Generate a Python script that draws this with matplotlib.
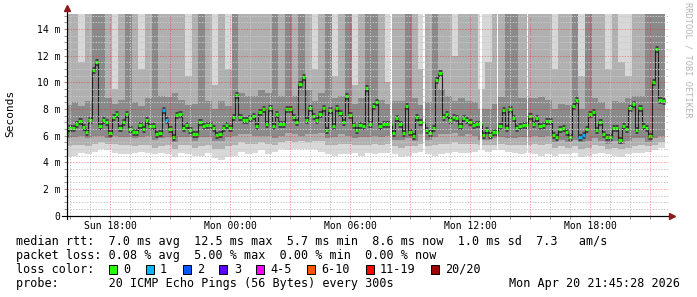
import numpy as np
import matplotlib.pyplot as plt
from matplotlib.patches import Rectangle

plt.rcParams['font.family'] = 'DejaVu Sans Mono'

# median rtt in ms, 10 minute steps from Sun 15:45 to Mon 21:45
median_ms = [
    6.2, 6.6, 6.55, 6.9, 7.1, 6.65, 6.3, 7.2, 10.9, 11.5,
    6.7, 7.2, 7.0, 6.2, 7.4, 7.6, 6.6, 7.0, 7.6, 6.5,
    6.3, 6.3, 6.8, 6.5, 7.2, 6.7, 6.7, 6.1, 6.2, 7.9,
    7.2, 6.5, 5.9, 7.55, 7.6, 6.55, 6.8, 6.4, 6.1, 6.1,
    7.05, 6.7, 6.8, 6.8, 6.55, 6.05, 6.1, 6.55, 6.8, 6.6,
    7.4, 9.05, 7.4, 7.2, 7.2, 7.3, 7.5, 6.7, 7.8, 8.0,
    6.85, 8.1, 6.7, 7.6, 6.9, 6.9, 8.0, 8.0, 7.4, 7.0,
    9.9, 10.4, 7.2, 8.05, 7.5, 7.2, 7.6, 8.1, 6.4, 7.9,
    6.7, 8.1, 7.7, 7.0, 9.0, 7.55, 6.8, 6.4, 6.8, 6.7,
    9.6, 6.9, 8.2, 8.55, 6.7, 6.9, 6.9, 6.9, 6.2, 7.3,
    6.9, 6.2, 8.2, 6.3, 6.0, 7.4, 7.05, 7.05, 6.4, 6.2,
    6.55, 10.2, 10.7, 7.4, 7.6, 7.2, 7.4, 7.35, 6.7, 7.3,
    7.2, 7.0, 6.8, 6.9, 6.9, 6.05, 6.4, 6.05, 6.3, 6.3,
    6.7, 7.9, 6.55, 8.0, 7.3, 6.55, 6.7, 6.8, 6.8, 7.5,
    6.9, 7.3, 6.7, 6.8, 7.1, 7.1, 6.05, 5.9, 6.5, 6.55,
    6.3, 5.9, 8.2, 8.7, 5.9, 6.05, 6.5, 7.6, 7.8, 6.4,
    7.05, 6.1, 5.9, 5.9, 6.55, 6.6, 5.7, 6.7, 6.5, 8.1,
    8.4, 6.4, 8.05, 6.7, 6.55, 6.0, 10.05, 12.5, 8.7, 8.6,
]
# median steps where 1 of 20 pings was lost
loss1_steps = [29, 30, 154, 155]

# smoke: ping spread in 20 minute steps (ms), 20 = above the chart top
ping_lo1 = [
    4.4, 4.5, 4.7, 4.6, 4.8, 5.0, 4.9, 4.7, 4.6, 4.6,
    4.7, 4.8, 4.7, 4.6, 4.7, 4.6, 4.4, 4.7, 4.6, 4.5,
    4.5, 4.7, 4.3, 4.2, 4.4, 4.5, 4.8, 4.6, 4.7, 4.9,
    4.6, 4.8, 5.0, 4.9, 5.0, 5.0, 5.0, 5.0, 4.8, 4.6,
    4.5, 4.6, 4.6, 4.7, 4.5, 4.7, 4.6, 4.7, 4.7, 4.6,
    4.4, 4.5, 4.7, 4.8, 4.6, 4.5, 4.6, 4.7, 4.8, 4.7,
    4.7, 4.8, 4.9, 4.8, 4.9, 4.9, 4.8, 4.7, 4.6, 4.7,
    4.6, 4.5, 4.6, 4.5, 4.6, 4.6, 4.7, 4.4, 4.5, 4.6,
    4.7, 4.6, 4.5, 4.4, 4.6, 4.7, 4.7, 4.8, 4.9, 5.1,
]
ping_lo2 = [
    5.2, 5.3, 5.3, 5.2, 5.4, 5.5, 5.4, 5.4, 5.3, 5.3,
    5.2, 5.3, 5.3, 5.1, 5.2, 5.3, 5.0, 5.3, 5.3, 5.1,
    5.2, 5.3, 5.0, 5.0, 5.2, 5.3, 5.5, 5.4, 5.4, 5.5,
    5.4, 5.3, 5.5, 5.6, 5.5, 5.6, 5.5, 5.6, 5.6, 5.3,
    5.3, 5.4, 5.4, 5.3, 5.3, 5.3, 5.4, 5.3, 5.4, 5.2,
    5.1, 5.2, 5.2, 5.4, 5.2, 5.3, 5.4, 5.4, 5.5, 5.4,
    5.4, 5.4, 5.3, 5.3, 5.3, 5.4, 5.3, 5.3, 5.3, 5.3,
    5.4, 5.3, 5.4, 5.1, 5.2, 5.1, 5.2, 5.0, 5.1, 5.3,
    5.2, 5.0, 5.1, 5.0, 5.1, 5.2, 5.3, 5.2, 5.3, 5.5,
]
ping_lo3 = [
    5.8, 5.9, 6.0, 5.8, 6.0, 6.0, 5.8, 6.0, 5.9, 5.9,
    5.8, 5.9, 6.0, 5.7, 5.8, 5.9, 5.5, 5.9, 5.9, 5.6,
    5.9, 5.9, 5.6, 5.6, 5.9, 6.0, 6.1, 6.1, 6.0, 6.0,
    6.0, 5.8, 6.0, 6.2, 6.1, 6.0, 6.1, 6.1, 6.2, 5.8,
    5.9, 6.1, 6.0, 5.8, 5.9, 5.9, 6.0, 5.9, 6.0, 5.7,
    5.7, 5.8, 5.6, 6.1, 5.7, 5.9, 6.1, 6.1, 6.2, 6.0,
    6.1, 6.0, 5.7, 5.7, 5.8, 5.9, 5.8, 5.8, 5.9, 5.9,
    6.0, 5.9, 6.0, 5.5, 5.7, 5.5, 5.7, 5.5, 5.6, 5.8,
    5.6, 5.4, 5.6, 5.4, 5.6, 5.8, 5.8, 5.5, 5.8, 6.0,
]
ping_hi3 = [
    8.3, 8.5, 8.2, 8.6, 20, 20, 8.8, 8.4, 8.7, 20,
    8.5, 8.2, 8.8, 20, 9.0, 8.9, 9.2, 8.7, 8.3, 8.4,
    20, 8.6, 8.0, 8.6, 8.2, 20, 9.2, 9.0, 9.0, 9.4,
    9.2, 20, 9.0, 20, 9.0, 20, 9.4, 8.6, 9.2, 20,
    8.8, 9.0, 20, 8.4, 8.8, 20, 20, 8.7, 8.4, 8.6,
    8.6, 20, 8.8, 8.3, 8.5, 20, 9.5, 9.0, 8.6, 8.8,
    8.6, 8.5, 8.0, 8.0, 8.4, 8.9, 20, 20, 8.8, 8.8,
    8.8, 8.9, 8.7, 8.0, 8.4, 8.3, 20, 8.0, 20, 8.8,
    8.5, 8.0, 8.6, 8.5, 8.8, 9.0, 9.0, 20, 20, 20,
]
ping_hi2 = [
    20, 20, 11.5, 20, 20, 20, 20, 9.5, 20, 20,
    20, 11.0, 20, 20, 20, 20, 20, 20, 10.5, 20,
    20, 20, 9.8, 20, 11.0, 20, 20, 20, 20, 20,
    20, 20, 20, 20, 20, 20, 20, 11.0, 20, 20,
    10.5, 20, 20, 9.8, 20, 20, 20, 20, 10.0, 20,
    20, 20, 20, 11.0, 20, 20, 20, 20, 12.0, 20,
    20, 20, 9.5, 11.5, 20, 20, 20, 20, 20, 20,
    20, 20, 20, 11.0, 20, 20, 20, 10.5, 20, 20,
    20, 11.0, 20, 11.5, 10.5, 20, 20, 20, 20, 20,
]
ping_hi1 = [
    20, 20, 20, 20, 20, 20, 20, 20, 20, 20,
    20, 20, 20, 20, 20, 20, 20, 20, 20, 20,
    20, 20, 20, 20, 20, 20, 20, 20, 20, 20,
    20, 20, 20, 20, 20, 20, 20, 20, 20, 20,
    20, 20, 20, 20, 20, 20, 20, 20, 20, 20,
    20, 20, 20, 20, 20, 20, 20, 20, 20, 20,
    20, 20, 20, 20, 20, 20, 20, 20, 20, 20,
    20, 20, 20, 20, 20, 20, 20, 20, 20, 20,
    20, 20, 20, 20, 20, 20, 20, 20, 20, 20,
]

# missing 5 minute samples, hours after Sun 00:00
missing_t = [32.0, 33.667, 36.5, 37.333, 38.833]

start_h = 15.75
x_ticks = [18, 21, 24, 27, 30, 33, 36, 39, 42, 45]
x_labels = ['Sun 18:00', '', 'Mon 00:00', '', 'Mon 06:00', '', 'Mon 12:00', '', 'Mon 18:00', '']
y_ticks = [0, 2, 4, 6, 8, 10, 12, 14]
y_labels = ['0', '2 m', '4 m', '6 m', '8 m', '10 m', '12 m', '14 m']

loss_names = ['0', '1', '2', '3', '4-5', '6-10', '11-19', '20/20']
loss_colors = ['#26ff00', '#00b8ff', '#0059ff', '#5e00ff', '#ff00ff', '#ff5500', '#ff0000', '#a00000']

line_rtt = 'median rtt:  7.0 ms avg  12.5 ms max  5.7 ms min  8.6 ms now  1.0 ms sd  7.3   am/s'
line_loss = 'packet loss: 0.08 % avg  5.00 % max  0.00 % min  0.00 % now'
line_probe = 'probe:       20 ICMP Echo Pings (56 Bytes) every 300s'
stamp = 'Mon Apr 20 21:45:28 2026'

W, H = 697, 297
fig = plt.figure(figsize=(W / 100, H / 100), dpi=100)
ax = fig.add_axes([66.7 / W, 1 - 215.7 / H, 601.3 / W, 201.4 / H])
ax.set_xlim(15.835, 45.9)
ax.set_ylim(0, 15.1)

# smoke bands, outer (light) to inner (dark)
smoke_edges = start_h + np.arange(len(ping_lo1) + 1) / 3
for lo, hi, c in [(ping_lo1, ping_hi1, '#d8d8d8'),
                  (ping_lo2, ping_hi2, '#b0b0b0'),
                  (ping_lo3, ping_hi3, '#8a8a8a')]:
    ax.stairs(hi, smoke_edges, baseline=lo, fill=True, color=c, lw=0, zorder=1.0)

# median: dark core, thin connectors, loss-coloured dashes
med_edges = start_h + np.arange(len(median_ms) + 1) / 6
ax.hlines(median_ms, med_edges[:-1], med_edges[1:], colors='#444444', lw=5.0, zorder=1.3)
ax.stairs(median_ms, med_edges, baseline=None, color='#202020', lw=0.8, zorder=1.4)
cols = [loss_colors[1] if i in loss1_steps else loss_colors[0] for i in range(len(median_ms))]
ax.hlines(median_ms, med_edges[:-1], med_edges[1:], colors=cols, lw=2.2, zorder=1.6)

for t in missing_t:
    ax.axvspan(t, t + 5 / 60, color='white', lw=0, zorder=1.8)

ax.set_xticks(x_ticks)
ax.set_xticklabels(x_labels)
ax.set_xticks(np.arange(16, 46), minor=True)
ax.set_yticks(y_ticks)
ax.set_yticklabels(y_labels)
ax.set_yticks(np.arange(0, 15.01, 0.5), minor=True)
ax.set_axisbelow(False)
ax.grid(which='minor', color='#c8c8c8', lw=0.72, ls=(0, (1.4, 1.4)))
ax.grid(which='major', color='#ff0000', alpha=0.35, lw=0.72, ls=(0, (1.4, 1.4)))
ax.tick_params(which='both', direction='out', length=2.2, width=0.7, colors='#909090',
               labelcolor='black', labelsize=7, pad=2.5)
ax.tick_params(axis='x', which='major', pad=1.8)

for s in ['top', 'right']:
    ax.spines[s].set_visible(False)
for s in ['left', 'bottom']:
    ax.spines[s].set_linewidth(0.8)
ax.plot([0, 0], [-0.015, 1.02], transform=ax.transAxes, color='black', lw=0.8, clip_on=False, zorder=5)
ax.plot([-0.008, 1.003], [0, 0], transform=ax.transAxes, color='black', lw=0.8, clip_on=False, zorder=5)
ax.plot([0], [1.03], marker='^', ms=4, color='#8b1a1a', transform=ax.transAxes, clip_on=False, zorder=6)
ax.plot([1.006], [0], marker='>', ms=4, color='#8b1a1a', transform=ax.transAxes, clip_on=False, zorder=6)

fig.text(10 / W, 1 - 113 / H, 'Seconds', rotation=90, ha='center', va='center', fontsize=8)
fig.text(688 / W, 1 - 60 / H, 'RRDTOOL / TOBI OETIKER', rotation=270, ha='center', va='center',
         fontsize=6.2, color='#b4b4b4')

fs = 8.5
fig.text(16 / W, 1 - 241.5 / H, line_rtt, fontsize=fs, va='center')
fig.text(16 / W, 1 - 255.2 / H, line_loss, fontsize=fs, va='center')
fig.text(16 / W, 1 - 269.2 / H, 'loss color:', fontsize=fs, va='center')
fig.text(16 / W, 1 - 283 / H, line_probe, fontsize=fs, va='center')
fig.text(680 / W, 1 - 283 / H, stamp, fontsize=fs, va='center', ha='right')

x = 108.7
for name, c in zip(loss_names, loss_colors):
    fig.add_artist(Rectangle((x / W, 1 - 273.7 / H), 8 / W, 8.7 / H, facecolor=c,
                             edgecolor='black', lw=0.7, transform=fig.transFigure))
    fig.text((x + 14.3) / W, 1 - 269.2 / H, name, fontsize=fs, va='center')
    x += 14.3 + len(name) * 7.1 + 15.5

fig.savefig('out.png', dpi=100)
